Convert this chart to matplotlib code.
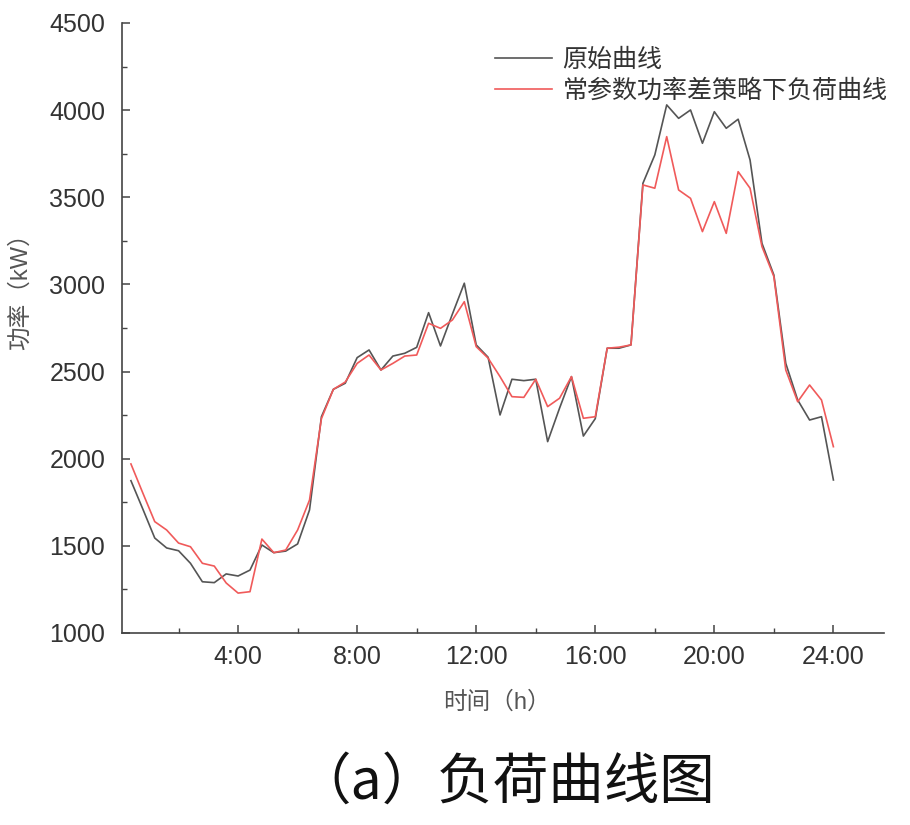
import numpy as np
import matplotlib
matplotlib.use("Agg")
import matplotlib.pyplot as plt
from matplotlib.ticker import MultipleLocator, FixedLocator

plt.rcParams['font.family'] = ['Liberation Sans', 'Noto Sans CJK SC']

# time axis: 60 samples, every 24 minutes
hours = np.arange(1, 61) * 0.4

# original load curve (kW)
load_orig = [1874, 1711, 1545, 1488, 1472, 1400, 1294, 1289, 1339, 1327,
             1361, 1505, 1461, 1470, 1511, 1706, 2241, 2398, 2433, 2580,
             2624, 2509, 2589, 2605, 2639, 2838, 2647, 2830, 3007, 2653,
             2582, 2251, 2456, 2448, 2456, 2098, 2290, 2471, 2130, 2230,
             2634, 2634, 2653, 3580, 3743, 4030, 3953, 4001, 3810, 3991,
             3896, 3948, 3714, 3236, 3054, 2547, 2337, 2222, 2241, 1878]

# load curve under constant-parameter power-difference strategy (kW)
load_ctrl = [1970, 1803, 1639, 1591, 1516, 1495, 1400, 1384, 1287, 1229,
             1237, 1539, 1461, 1476, 1591, 1763, 2230, 2398, 2440, 2547,
             2595, 2509, 2547, 2589, 2595, 2777, 2748, 2796, 2901, 2643,
             2577, 2471, 2356, 2352, 2456, 2299, 2347, 2471, 2232, 2241,
             2634, 2640, 2653, 3571, 3552, 3848, 3542, 3494, 3303, 3475,
             3293, 3647, 3552, 3217, 3045, 2509, 2327, 2423, 2337, 2069]

labels = ['原始曲线', '常参数功率差策略下负荷曲线']
xticks = [4, 8, 12, 16, 20, 24]
xticklabels = ['4:00', '8:00', '12:00', '16:00', '20:00', '24:00']

W, H = 910, 825
fig = plt.figure(figsize=(W / 100, H / 100), dpi=100)
ax = fig.add_axes([122 / W, 1 - 633 / H, (884 - 122) / W, (633 - 23) / H])

ax.plot(hours, load_orig, color='#555555', lw=1.2, label=labels[0])
ax.plot(hours, load_ctrl, color='#f05a5a', lw=1.2, label=labels[1])

ax.set_xlim(0.1, 25.7)
ax.set_ylim(1000, 4500)
ax.set_xticks(xticks)
ax.set_xticklabels(xticklabels)
ax.xaxis.set_minor_locator(FixedLocator([2, 6, 10, 14, 18, 22]))
ax.yaxis.set_major_locator(MultipleLocator(500))
ax.yaxis.set_minor_locator(MultipleLocator(250))

for s in ['top', 'right']:
    ax.spines[s].set_visible(False)
for s in ['left', 'bottom']:
    ax.spines[s].set_color('#444444')
    ax.spines[s].set_linewidth(1.2)

ax.tick_params(which='major', direction='in', length=6, width=1.1,
               color='#444444', labelsize=18, labelcolor='#333333')
ax.tick_params(which='minor', direction='in', length=3.5, width=1.0,
               color='#444444')
ax.tick_params(axis='x', which='major', pad=9)
ax.tick_params(axis='y', which='major', pad=12)

ax.set_ylabel('功率（kW）', fontsize=17, color='#555555')
ax.yaxis.set_label_coords(-0.118, 0.57)
ax.set_xlabel('时间（h）', fontsize=17, color='#555555')
ax.xaxis.set_label_coords(0.492, -0.095)
ax.xaxis.label.set_va('top')

leg = ax.legend(loc='upper left', bbox_to_anchor=(495 / W, 1 - 47 / H),
                bbox_transform=fig.transFigure, frameon=False,
                prop={'family': 'Noto Sans CJK SC', 'size': 18},
                handlelength=2.3, handletextpad=0.4, labelspacing=0.2,
                borderpad=0, borderaxespad=0)
for t in leg.get_texts():
    t.set_color('#333333')

fig.text(505 / W, 1 - 783 / H, '（a）负荷曲线图', ha='center', va='center',
         fontsize=40, family='Noto Sans CJK SC', color='#111111')

fig.savefig('out.png', dpi=100)
